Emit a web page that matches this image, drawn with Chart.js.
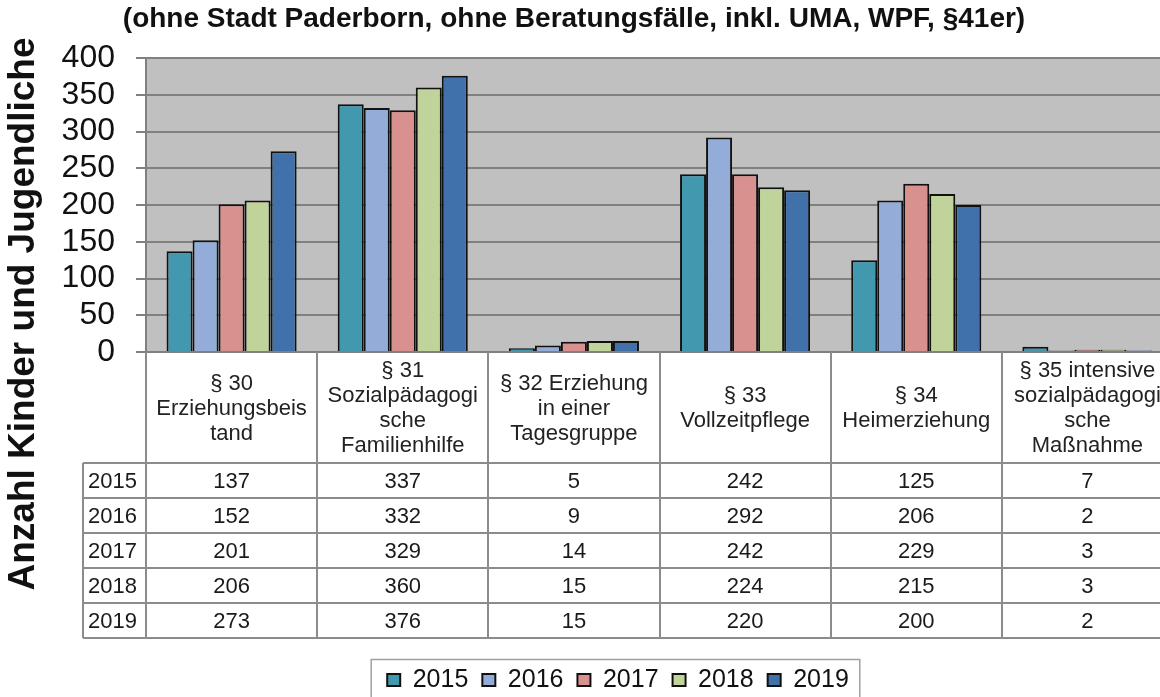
<!DOCTYPE html>
<html>
<head>
<meta charset="utf-8">
<script src="https://cdn.jsdelivr.net/npm/chart.js@4/dist/chart.umd.min.js"></script>
<style>
  html, body { margin: 0; padding: 0; background: #fff; overflow: hidden; }
  #wrap { width: 1160px; height: 697px; overflow: hidden; }
</style>
</head>
<body>
<div id="wrap"><canvas id="chart" width="1236" height="705"></canvas></div>
<script>
// ---- data ----
const categories = [
  ['§ 30', 'Erziehungsbeis', 'tand'],
  ['§ 31', 'Sozialpädagogi', 'sche', 'Familienhilfe'],
  ['§ 32 Erziehung', 'in einer', 'Tagesgruppe'],
  ['§ 33', 'Vollzeitpflege'],
  ['§ 34', 'Heimerziehung'],
  ['§ 35 intensive', 'sozialpädagogi', 'sche', 'Maßnahme']
];
const years = ['2015', '2016', '2017', '2018', '2019'];
const v2015 = [137, 337, 5, 242, 125, 7];
const v2016 = [152, 332, 9, 292, 206, 2];
const v2017 = [201, 329, 14, 242, 229, 3];
const v2018 = [206, 360, 15, 224, 215, 3];
const v2019 = [273, 376, 15, 220, 200, 2];
const yTicks = [0, 50, 100, 150, 200, 250, 300, 350, 400];

const titleText = '(ohne Stadt Paderborn, ohne Beratungsfälle, inkl. UMA, WPF, §41er)';
const yTitle = 'Anzahl Kinder und Jugendliche';

const FONT = "'Liberation Sans', Arial, sans-serif";
const colors = ['#4198AF', '#94ADD8', '#D8918F', '#BFD39B', '#4171AA'];
const seriesValues = [v2015, v2016, v2017, v2018, v2019];

const HEADER_H = 111;  // height of the category label row
const ROW_H = 35;      // table row height
const GRID = '#8c8c8c';

// plot background, titles, data table and legend frame
const tablePlugin = {
  id: 'tablePlugin',
  beforeDraw(chart) {
    const { ctx, chartArea: a } = chart;
    ctx.save();
    ctx.fillStyle = '#C0C0C0';
    ctx.fillRect(a.left, a.top, a.right - a.left, a.bottom - a.top);
    ctx.restore();
  },
  afterDraw(chart) {
    const { ctx, chartArea: a } = chart;
    const x = chart.scales.x;
    const n = categories.length;
    const half = (x.getPixelForValue(1) - x.getPixelForValue(0)) / 2;
    const tTop = a.bottom + HEADER_H;
    const tBottom = tTop + ROW_H * years.length;
    const tLeft = 83;

    ctx.save();
    ctx.strokeStyle = GRID;
    ctx.lineWidth = 2;
    // vertical lines
    ctx.beginPath();
    for (let i = 0; i <= n; i++) {
      const px = Math.round(x.getPixelForValue(i) - half);
      ctx.moveTo(px, a.bottom);
      ctx.lineTo(px, tBottom);
    }
    ctx.moveTo(tLeft, tTop);
    ctx.lineTo(tLeft, tBottom);
    // horizontal lines
    for (let r = 0; r <= years.length; r++) {
      const py = Math.round(tTop + r * ROW_H);
      ctx.moveTo(tLeft, py);
      ctx.lineTo(a.right, py);
    }
    ctx.stroke();

    // values
    ctx.fillStyle = '#1a1a1a';
    ctx.font = '22px ' + FONT;
    ctx.textBaseline = 'middle';
    years.forEach((yr, r) => {
      const cy = tTop + r * ROW_H + ROW_H / 2 + 1;
      ctx.textAlign = 'left';
      ctx.fillText(yr, tLeft + 5, cy);
      ctx.textAlign = 'center';
      seriesValues[r].forEach((v, i) => {
        ctx.fillText(String(v), x.getPixelForValue(i), cy);
      });
    });

    // chart title
    ctx.font = 'bold 28px ' + FONT;
    ctx.textAlign = 'center';
    ctx.fillStyle = '#111';
    ctx.fillText(titleText, 574, 19);

    // y axis title
    ctx.save();
    ctx.translate(24, 314);
    ctx.rotate(-Math.PI / 2);
    ctx.font = 'bold 37px ' + FONT;
    ctx.fillText(yTitle, 0, 0);
    ctx.restore();

    // legend frame
    const boxes = chart.legend.legendHitBoxes;
    if (boxes && boxes.length) {
      const first = boxes[0], last = boxes[boxes.length - 1];
      ctx.strokeStyle = '#a0a0a0';
      ctx.lineWidth = 1.5;
      ctx.strokeRect(first.left - 16, first.top - 8, last.left + last.width + 27 - first.left, 60);
    }
    ctx.restore();
  }
};

new Chart(document.getElementById('chart'), {
  type: 'bar',
  data: {
    labels: categories,
    datasets: years.map((yr, i) => ({
      label: yr,
      data: seriesValues[i],
      backgroundColor: colors[i],
      borderColor: '#111',
      borderWidth: 2,
      borderSkipped: 'bottom',
      categoryPercentage: 0.76,
      barPercentage: 1.0
    }))
  },
  options: {
    responsive: false,
    animation: false,
    devicePixelRatio: 1,
    layout: { padding: { left: 0, right: 0, top: 58, bottom: 2.5 } },
    plugins: {
      title: { display: false },
      tooltip: { enabled: false },
      legend: {
        position: 'bottom',
        labels: {
          boxWidth: 13,
          boxHeight: 12,
          padding: 14,
          color: '#111',
          font: { family: FONT, size: 25 }
        }
      }
    },
    scales: {
      x: {
        grid: { display: false, drawTicks: false },
        border: { display: false },
        ticks: {
          autoSkip: false,
          maxRotation: 0,
          crossAlign: 'center',
          padding: 19,
          color: '#222',
          font: { family: FONT, size: 22, lineHeight: 1.14 }
        },
        afterFit(scale) { scale.height = 301.5; }
      },
      y: {
        min: yTicks[0],
        max: yTicks[yTicks.length - 1],
        afterBuildTicks(scale) { scale.ticks = yTicks.map(v => ({ value: v })); },
        ticks: { autoSkip: false, padding: 21, color: '#111', font: { family: FONT, size: 32 } },
        grid: { color: '#808080', lineWidth: 2, tickLength: 10 },
        border: { color: '#808080', width: 2 },
        afterFit(scale) { scale.width = 146; }
      },
      // empty right-hand space (the original chart continues past the crop)
      yRight: {
        position: 'right',
        display: true,
        ticks: { display: false },
        grid: { drawOnChartArea: false, drawTicks: false },
        border: { display: false },
        afterFit(scale) { scale.width = 63; }
      }
    }
  },
  plugins: [tablePlugin]
});
</script>
</body>
</html>
